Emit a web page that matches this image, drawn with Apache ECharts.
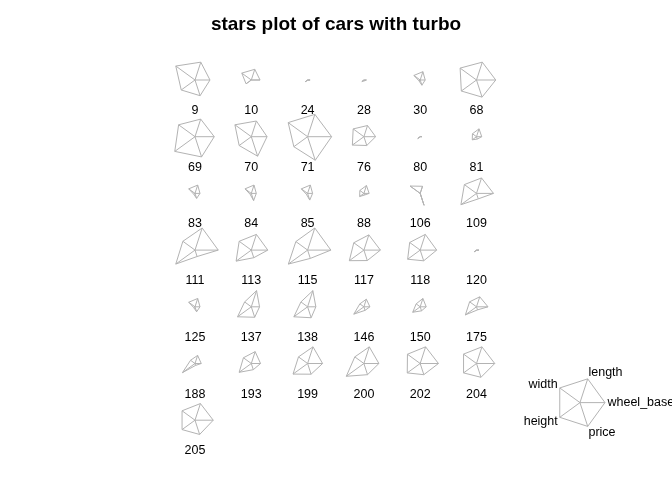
<!DOCTYPE html>
<html><head><meta charset="utf-8">
<script src="https://cdn.jsdelivr.net/npm/echarts@6/dist/echarts.min.js"></script>
<style>html,body{margin:0;padding:0;background:#fff}#c{width:672px;height:480px}</style>
</head><body><div id="c"></div>
<script>
// ---- data (scaled 0..1 per variable, as in R stars(scale=TRUE)) ----
const carLabels = ['9','10','24','28','30','68','69','70','71','76','80','81','83','84','85','88','106','109','111','113','115','117','118','120','125','137','138','146','150','175','188','193','199','200','202','204','205'];
const varNames = ['wheel_base','length','width','height','price'];
const wheelBase = [0.60,0.35,0.10,0.10,0.20,0.77,0.77,0.63,0.96,0.47,0.07,0.21,0.20,0.20,0.20,0.21,0.00,0.68,0.93,0.66,0.93,0.66,0.66,0.10,0.20,0.33,0.33,0.24,0.24,0.46,0.25,0.37,0.60,0.60,0.73,0.73,0.73];
const carLength = [0.75,0.45,0.00,0.00,0.35,0.75,0.74,0.66,0.94,0.47,0.00,0.33,0.35,0.35,0.35,0.33,0.30,0.65,0.93,0.66,0.93,0.64,0.66,0.00,0.35,0.68,0.68,0.32,0.35,0.42,0.34,0.50,0.70,0.70,0.70,0.70,0.70];
const carWidth = [0.95,0.47,0.00,0.00,0.31,0.81,0.81,0.81,0.96,0.53,0.00,0.20,0.31,0.31,0.31,0.20,0.50,0.60,0.60,0.60,0.58,0.50,0.52,0.00,0.31,0.33,0.33,0.20,0.20,0.34,0.22,0.39,0.45,0.45,0.63,0.64,0.64];
const carHeight = [0.68,0.26,0.12,0.10,0.06,0.75,1.00,0.60,0.68,0.57,0.12,0.21,0.06,0.06,0.06,0.21,0.00,0.77,0.95,0.75,0.95,0.72,0.62,0.12,0.06,0.68,0.68,0.50,0.37,0.55,0.62,0.60,0.72,0.87,0.64,0.64,0.64];
const price = [0.66,0.00,0.01,0.04,0.22,0.72,0.85,0.82,0.99,0.37,0.00,0.10,0.21,0.30,0.28,0.07,0.50,0.23,0.27,0.32,0.35,0.44,0.45,0.01,0.21,0.44,0.46,0.15,0.17,0.13,0.08,0.26,0.45,0.47,0.47,0.58,0.60];
const keyValues = [1,1,1,1,1];

// ---- layout ----
const NCOL = 6;
const STAR_R = 0.444;      // full radius in column units
const LABEL_DY = 0.54;     // label offset in row units
const KEY_POS = [6.838, 5.69];
const LINE_COL = '#b3b3b3';

const starData = carLabels.map((lab, i) => [i % NCOL, Math.floor(i / NCOL), wheelBase[i], carLength[i], carWidth[i], carHeight[i], price[i], i]);
const keyData = [[KEY_POS[0], KEY_POS[1]].concat(keyValues).concat([-1])];

function starShapes(api, withKey) {
  const c = api.coord([api.value(0), api.value(1)]);
  const unit = api.size([1, 1]);
  const R = STAR_R * unit[0];
  const pts = [];
  const children = [];
  for (let k = 0; k < 5; k++) {
    const v = api.value(2 + k);
    const a = k * 2 * Math.PI / 5;
    pts.push([c[0] + R * v * Math.cos(a), c[1] - R * v * Math.sin(a)]);
  }
  children.push({type: 'polygon', shape: {points: pts}, style: {fill: null, stroke: LINE_COL, lineWidth: 1}});
  pts.forEach(p => children.push({type: 'line', shape: {x1: c[0], y1: c[1], x2: p[0], y2: p[1]}, style: {stroke: LINE_COL, lineWidth: 1}}));
  if (withKey) {
    for (let k = 0; k < 5; k++) {
      const a = k * 2 * Math.PI / 5;
      const cs = Math.cos(a), sn = Math.sin(a);
      children.push({type: 'text', style: {
        text: varNames[k], x: c[0] + 1.1 * R * cs, y: c[1] - 1.1 * R * sn - 4 * sn,
        align: cs > 0.1 ? 'left' : (cs < -0.1 ? 'right' : 'center'),
        verticalAlign: 'middle',
        fill: '#000', font: '12.5px "Liberation Sans", Arial, sans-serif'}});
    }
  } else {
    const idx = api.value(7);
    children.push({type: 'text', style: {
      text: carLabels[idx], x: c[0], y: c[1] + LABEL_DY * unit[1],
      align: 'center', verticalAlign: 'middle',
      fill: '#000', font: '12.5px "Liberation Sans", Arial, sans-serif'}});
  }
  return {type: 'group', children: children};
}

const chart = echarts.init(document.getElementById('c'), null, {renderer: 'canvas'});
chart.setOption({
  animation: false,
  backgroundColor: '#ffffff',
  title: {text: 'stars plot of cars with turbo', left: 'center', top: 10,
    textStyle: {fontFamily: '"Liberation Sans", Arial, sans-serif', fontSize: 19, fontWeight: 'bold', color: '#000'}},
  grid: {left: 26.1, width: 619.3, top: 23.3, height: 453.6, containLabel: false},
  xAxis: {type: 'value', min: -3, max: 8, show: false},
  yAxis: {type: 'value', min: -1, max: 7, inverse: true, show: false},
  series: [
    {type: 'custom', data: starData, renderItem: (p, api) => starShapes(api, false), clip: false},
    {type: 'custom', data: keyData, renderItem: (p, api) => starShapes(api, true), clip: false}
  ]
});
</script></body></html>
